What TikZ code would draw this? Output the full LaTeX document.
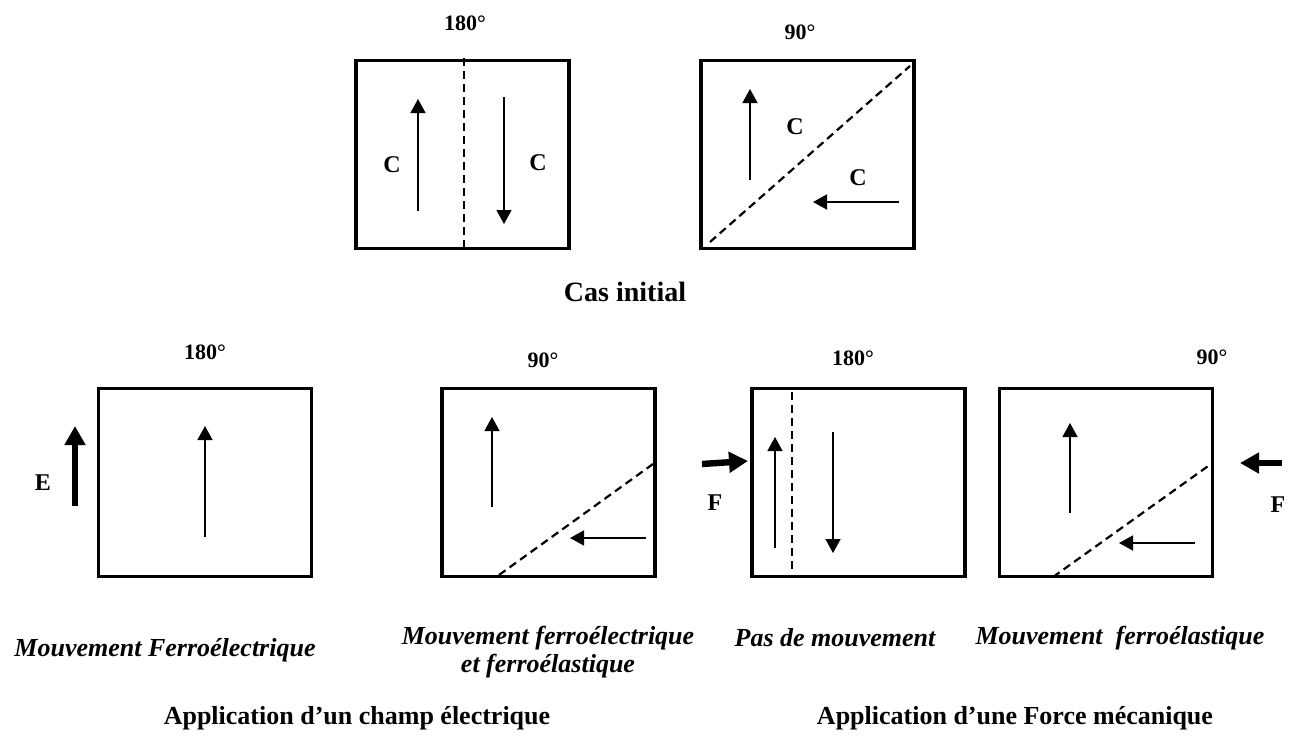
\documentclass[tikz,border=0pt]{standalone}
\usepackage{fontspec}
\setmainfont{Liberation Serif}
\usetikzlibrary{arrows.meta}

\begin{document}
\begin{tikzpicture}[x=0.5pt,y=-0.5pt,>={Triangle[length=7pt,width=7.5pt]}]
            \tikzstyle{cell}=[draw, line width=1.8pt, minimum width=106.5pt, minimum height=94pt, inner sep=0pt]
            \tikzstyle{dwall}=[line width=1.1pt, dash pattern=on 4pt off 2.5pt]
            \tikzstyle{pvec}=[->, line width=0.75pt]
            \tikzstyle{force}=[-{Triangle[length=9.5pt,width=10pt]}, line width=3.2pt]
            \tikzstyle{anglelbl}=[font=\bfseries\fontsize{11}{13}\selectfont]
            \tikzstyle{clbl}=[font=\bfseries\fontsize{12}{14}\selectfont]
            \tikzstyle{mvt}=[font=\bfseries\itshape\fontsize{13}{14}\selectfont, align=center]
            \tikzstyle{appl}=[font=\bfseries\fontsize{13}{15}\selectfont]
            \useasboundingbox (0,0) rectangle (1298,735);
            % cas initial
            \node[cell] (b1) at (462.5,154.5) {};
            \node[cell] (b2) at (807.5,154.5) {};
            \node[anglelbl] (a1) at (465,23) {180°};
            \node[anglelbl] (a2) at (800,32) {90°};
            \draw[dwall] (464,58) -- (464,248);
            \draw[pvec] (418,211) -- (418,99);
            \draw[pvec] (504,97) -- (504,224);
            \node[clbl] (c1) at (392,165) {C};
            \node[clbl] (c2) at (538,163) {C};
            \draw[dwall] (710,242) -- (910,66);
            \draw[pvec] (750,180) -- (750,89);
            \draw[pvec] (899,202) -- (813,202);
            \node[clbl] (c3) at (795,127) {C};
            \node[clbl] (c4) at (858,178) {C};
            \node[font=\bfseries\fontsize{14}{16}\selectfont] (ci) at (625,292) {Cas initial};
            % champ electrique
            \node[cell] (b3) at (205,482.5) {};
            \node[cell] (b4) at (548.5,482.5) {};
            \node[anglelbl] (a3) at (205,352) {180°};
            \node[anglelbl] (a4) at (543,360) {90°};
            \draw[force] (75,506) -- (75,426);
            \node[clbl] (e) at (43,483) {E};
            \draw[pvec] (205,537) -- (205,426);
            \draw[pvec] (492,507) -- (492,417);
            \draw[dwall] (499,575) -- (653,464);
            \draw[pvec] (646,538) -- (570,538);
            % force mecanique
            \node[cell] (b5) at (858.5,482.5) {};
            \node[cell] (b6) at (1106,482.5) {};
            \node[anglelbl] (a5) at (853,358) {180°};
            \node[anglelbl] (a6) at (1212,357) {90°};
            \draw[force] (702,464) -- (748,461);
            \node[clbl] (f1) at (715,503) {F};
            \draw[dwall] (792,392) -- (792,570);
            \draw[pvec] (775,548) -- (775,437);
            \draw[pvec] (833,432) -- (833,553);
            \draw[pvec] (1070,513) -- (1070,423);
            \draw[dwall] (1053,577) -- (1211,464);
            \draw[pvec] (1195,543) -- (1119,543);
            \draw[force] (1282,463) -- (1240,463);
            \node[clbl] (f2) at (1278,505) {F};
            % legendes
            \node[mvt] (m1) at (165,650) {Mouvement Ferroélectrique};
            \node[mvt] (m2) at (548,652) {Mouvement ferroélectrique\\et ferroélastique};
            \node[mvt] (m3) at (835,638) {Pas de mouvement};
            \node[mvt] (m4) at (1120,638) {Mouvement\ \ ferroélastique};
            \node[appl] (p1) at (357,718) {Application d’un champ électrique};
            \node[appl] (p2) at (1015,718) {Application d’une Force mécanique};
          \end{tikzpicture}
\end{document}
